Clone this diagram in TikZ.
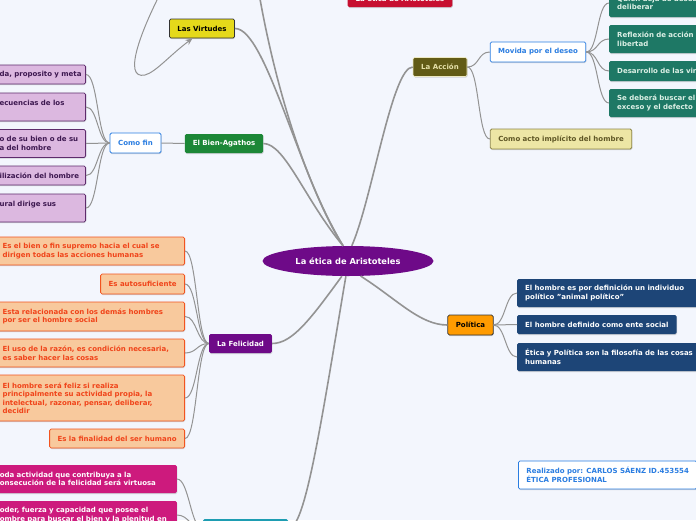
\documentclass[tikz,border=0pt]{standalone}
\usepackage{fontspec}
\setmainfont{DejaVu Sans}
\usetikzlibrary{arrows.meta,shapes.geometric,shadows}
\definecolor{MapBack}{HTML}{F3F6FD}
\definecolor{MapLine}{HTML}{939393}
\definecolor{MapPurple}{HTML}{6E0A88}
\definecolor{MapRed}{HTML}{C70F30}
\definecolor{MapYellow}{HTML}{E5D91A}
\definecolor{MapGreen}{HTML}{1C8737}
\definecolor{MapBlue}{HTML}{2A7DE1}
\definecolor{LilaFill}{HTML}{DCB8E0}
\definecolor{LilaDraw}{HTML}{5E2C6C}
\definecolor{LilaText}{HTML}{3D1850}
\definecolor{OraFill}{HTML}{F8C99D}
\definecolor{OraDraw}{HTML}{F2541F}
\definecolor{OraText}{HTML}{F0441A}
\definecolor{PolOrange}{HTML}{FF9B00}
\definecolor{PolNavy}{HTML}{1D4577}
\definecolor{OliveFill}{HTML}{625B16}
\definecolor{OliveText}{HTML}{E5E0A8}
\definecolor{KhakiFill}{HTML}{EDE6A5}
\definecolor{KhakiDraw}{HTML}{8E8648}
\definecolor{KhakiText}{HTML}{5F5726}
\definecolor{TealFill}{HTML}{1E7865}
\definecolor{TealText}{HTML}{DDF0E6}
\definecolor{MagFill}{HTML}{CD1A7D}
\definecolor{CyanFill}{HTML}{1E9DB2}

\begin{document}
\begin{tikzpicture}[x=1pt,y=-1pt,>=Stealth]
    \tikzset{topic/.style={rounded corners=1.5pt,minimum height=19pt,inner xsep=8pt,inner ysep=2pt,align=center,font=\fontsize{7}{8.5}\selectfont\bfseries,
        drop shadow={shadow xshift=0.5pt,shadow yshift=-1pt,fill=black,opacity=0.15}},
      sub/.style={topic,align=left},
      lila/.style={sub,anchor=east,fill=LilaFill,draw=LilaDraw,line width=0.8pt,text=LilaText,text width=82pt,inner xsep=4pt},
      ora/.style={sub,anchor=east,fill=OraFill,draw=OraDraw,line width=0.8pt,text=OraText},
      navy/.style={sub,anchor=west,fill=PolNavy,text=white},
      teal/.style={sub,anchor=west,fill=TealFill,text=TealText,text width=120pt},
      mag/.style={sub,anchor=east,fill=MagFill,text=white,text width=169pt},
      plain/.style={topic,fill=white,draw=MapBlue,line width=0.8pt,text=MapBlue},
      branch/.style={draw=MapLine,line width=1.6pt},
      link/.style={draw=MapLine,line width=1pt}}
    \useasboundingbox (0,0) rectangle (696,520);
    \clip (0,0) rectangle (696,520);
    \fill[MapBack] (0,0) rectangle (696,520);

    % centre
    \node[ellipse,fill=MapPurple,text=white,minimum width=171pt,minimum height=30pt,font=\fontsize{8.3}{10}\selectfont\bfseries] (cen) at (348,261) {La ética de Aristoteles};
    \node[topic,fill=MapRed,text=white,minimum width=104pt,minimum height=16pt,inner ysep=0pt] (top) at (400,-1) {La ética de Aristoteles};
    \coordinate (up) at (256,-25);
    \coordinate (loop) at (170,-25);

    % left top
    \node[topic,fill=MapYellow,draw=black!80,line width=0.8pt,minimum width=64pt] (virt) at (202,28.5) {Las Virtudes};
    \node[topic,fill=MapGreen,text=white,minimum width=76pt] (bien) at (224,143.5) {El Bien-Agathos};
    \node[plain,minimum width=51pt,minimum height=20pt] (fin) at (135.5,143) {Como fin};
    \node[lila] (l1) at (86,74.5) {da, proposito y meta};
    \node[lila,minimum height=28pt] (l2) at (86,107) {ecuencias de los\\\mbox{}};
    \node[lila,minimum height=28pt] (l3) at (86,143.5) {o de su bien o de su\\a del hombre};
    \node[lila] (l4) at (86,175.5) {ilización del hombre};
    \node[lila,minimum height=28pt] (l5) at (86,208) {ural dirige sus\\\mbox{}};

    % felicidad
    \node[topic,fill=MapPurple,text=white,minimum width=61pt] (fel) at (240.5,343.5) {La Felicidad};
    \node[ora,text width=174pt,minimum height=28pt] (o1) at (185,251) {Es el bien o fin supremo hacia el cual se\\dirigen todas las acciones humanas};
    \node[ora,minimum height=20pt] (o2) at (185,284) {Es autosuficiente};
    \node[ora,text width=174pt,minimum height=29pt] (o3) at (185,316.5) {Esta relacionada con los demás hombres\\por ser el hombre social};
    \node[ora,text width=174pt,minimum height=28pt] (o4) at (185,353) {El uso de la razón, es condición necesaria,\\es saber hacer las cosas};
    \node[ora,text width=174pt,minimum height=46pt] (o5) at (185,398) {El hombre será feliz si realiza\\principalmente su actividad propia, la\\intelectual, razonar, pensar, deliberar,\\decidir};
    \node[ora] (o6) at (185,438.5) {Es la finalidad del ser humano};

    % bottom
    \node[mag,minimum height=28pt] (b1) at (177,479) {oda actividad que contribuya a la\\onsecución de la felicidad será virtuosa};
    \node[mag,minimum height=28pt] (b2) at (177,515) {oder, fuerza y capacidad que posee el\\ombre para buscar el bien y la plenitud en};
    \node[topic,fill=CyanFill,minimum width=85pt,minimum height=20pt] (cy) at (245.5,529) {};

    % accion
    \node[topic,fill=OliveFill,draw=OliveText!70,line width=0.6pt,text=OliveText,minimum width=54pt] (acc) at (440,67) {La Acción};
    \node[plain,minimum width=94pt,minimum height=20pt] (mov) at (538,52) {Movida por el deseo};
    \node[topic,fill=KhakiFill,draw=KhakiDraw,line width=0.8pt,text=KhakiText,minimum width=140pt,minimum height=20pt] (acto) at (561,139) {Como acto implícito del hombre};
    \node[teal,minimum height=28pt] (m1) at (609,3) {Quien deja de desear\\deliberar};
    \node[teal,minimum height=28pt] (m2) at (609,39) {Reflexión de acción\\libertad};
    \node[teal,minimum height=20pt] (m3) at (609,71) {Desarrollo de las virtudes};
    \node[teal,minimum height=28pt] (m4) at (609,103) {Se deberá buscar el\\exceso y el defecto};

    % politica
    \node[topic,fill=PolOrange,draw=black!80,line width=0.8pt,minimum width=45pt,minimum height=20pt] (pol) at (470.5,325) {Política};
    \node[navy,text width=200pt,minimum height=28pt] (p1) at (517,293) {El hombre es por definición un individuo\\político "animal político"};
    \node[navy] (p2) at (517,324.5) {El hombre definido como ente social};
    \node[navy,text width=200pt,minimum height=28pt] (p3) at (517,357) {Ética y Política son la filosofía de las cosas\\humanas};

    \node[plain,anchor=west,align=left,minimum height=28pt] (real) at (518,475) {Realizado por: CARLOS SÁENZ ID.453554\\ÉTICA PROFESIONAL};

    % main branches
    \draw[branch] (cen.108) .. controls (300,180) and (266,28) .. (virt.east);
    \draw[branch] (cen.108) .. controls (292,160) and (266,40) .. (up);
    \draw[branch] (cen.108) .. controls (305,200) and (285,143.5) .. (bien.east);
    \draw[branch] (cen.76) .. controls (372,200) and (392,67) .. (acc.west);
    \draw[branch] (cen.-50) .. controls (398,300) and (420,325) .. (pol.west);
    \draw[branch] (cen.-112) .. controls (310,320) and (292,343.5) .. (fel.east);
    \draw[branch] (cen.-98) .. controls (320,430) and (305,529) .. (cy.east);
    \draw[link,-{Stealth[length=7pt,width=6pt]}] (loop) .. controls (140,30) and (122,80) .. (145,75) .. controls (156,72) and (170,55) .. (virt.226);

    % links
    \draw[link] (bien.west) -- (fin.east);
    \draw[link] (fin.west) .. controls +(-12,0) and +(12,0) .. (l1.east);
    \draw[link] (fin.west) .. controls +(-12,0) and +(12,0) .. (l2.east);
    \draw[link] (fin.west) .. controls +(-12,0) and +(12,0) .. (l3.east);
    \draw[link] (fin.west) .. controls +(-12,0) and +(12,0) .. (l4.east);
    \draw[link] (fin.west) .. controls +(-12,0) and +(12,0) .. (l5.east);
    \draw[link] (fel.west) .. controls +(-12,0) and +(12,0) .. (o1.east);
    \draw[link] (fel.west) .. controls +(-12,0) and +(12,0) .. (o2.east);
    \draw[link] (fel.west) .. controls +(-12,0) and +(12,0) .. (o3.east);
    \draw[link] (fel.west) .. controls +(-12,0) and +(12,0) .. (o4.east);
    \draw[link] (fel.west) .. controls +(-12,0) and +(12,0) .. (o5.east);
    \draw[link] (fel.west) .. controls +(-12,0) and +(12,0) .. (o6.east);
    \draw[link] (cy.west) .. controls +(-12,0) and +(12,0) .. (b1.east);
    \draw[link] (cy.west) .. controls +(-12,0) and +(12,0) .. (b2.east);
    \draw[link] (acc.east) .. controls +(12,0) and +(-12,0) .. (mov.west);
    \draw[link] (acc.east) .. controls +(12,0) and +(-12,0) .. (acto.west);
    \draw[link] (mov.east) .. controls +(12,0) and +(-12,0) .. (m1.west);
    \draw[link] (mov.east) .. controls +(12,0) and +(-12,0) .. (m2.west);
    \draw[link] (mov.east) .. controls +(12,0) and +(-12,0) .. (m3.west);
    \draw[link] (mov.east) .. controls +(12,0) and +(-12,0) .. (m4.west);
    \draw[link] (pol.east) .. controls +(12,0) and +(-12,0) .. (p1.west);
    \draw[link] (pol.east) .. controls +(12,0) and +(-12,0) .. (p2.west);
    \draw[link] (pol.east) .. controls +(12,0) and +(-12,0) .. (p3.west);
  \end{tikzpicture}
\end{document}
